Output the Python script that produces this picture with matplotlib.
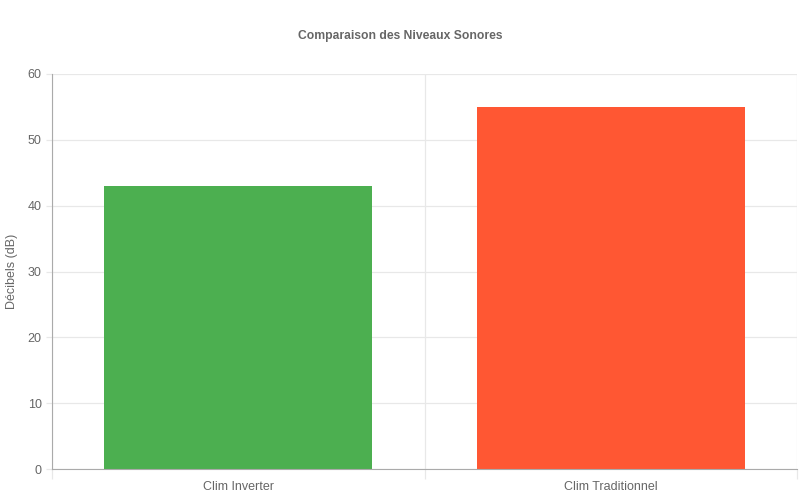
import matplotlib
matplotlib.use("Agg")
import matplotlib.pyplot as plt

categories = ["Clim Inverter", "Clim Traditionnel"]
values = [43, 55]
colors = ["#4CAF50", "#FF5733"]
y_ticks = [0, 10, 20, 30, 40, 50, 60]

plt.rcParams['font.family'] = ['Liberation Sans', 'DejaVu Sans']

fig = plt.figure(figsize=(8, 5), dpi=100)
ax = fig.add_axes([52/800, 31/500, 745/800, 395/500])

x = list(range(len(categories)))
ax.bar(x, values, width=0.72, color=colors, zorder=3)

ax.set_xlim(-0.5, len(categories) - 0.5)
ax.set_ylim(0, 60)
ax.set_yticks(y_ticks)
ax.set_xticks(x)
ax.set_xticklabels(categories)
ax.set_xticks([i - 0.5 for i in range(len(categories) + 1)], minor=True)

grid_c = "#e8e8e8"
ax.grid(axis='y', which='major', color=grid_c, linewidth=0.9, zorder=0)
ax.grid(axis='x', which='minor', color=grid_c, linewidth=0.9, zorder=0)
ax.tick_params(axis='x', which='major', length=0, pad=9, labelsize=9, labelcolor="#666666")
ax.tick_params(axis='x', which='minor', length=7.5, color=grid_c, width=0.9)
ax.tick_params(axis='y', which='major', length=4.5, color=grid_c, width=0.9, pad=3,
               labelsize=9, labelcolor="#666666")

for s in ['top', 'right']:
    ax.spines[s].set_visible(False)
ax.spines['left'].set_color("#aaaaaa")
ax.spines['bottom'].set_color("#aaaaaa")
ax.spines['left'].set_zorder(4)
ax.spines['bottom'].set_zorder(4)

ax.set_ylabel("Décibels (dB)", fontsize=9, color="#666666", labelpad=7)
fig.suptitle("Comparaison des Niveaux Sonores", fontsize=8.7, fontweight='bold',
             color="#666666", y=1 - 36/500, va='center')

fig.savefig("out.png", dpi=100)
